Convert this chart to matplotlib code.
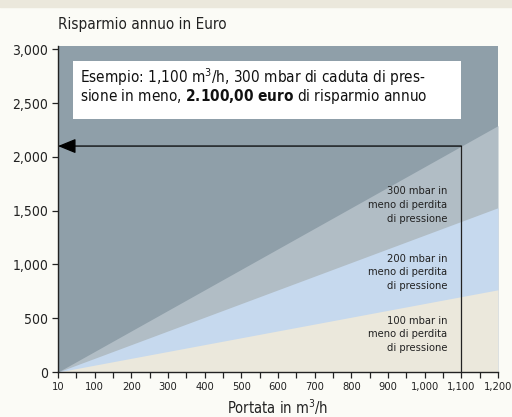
import matplotlib.pyplot as plt
from matplotlib.patches import Rectangle

plt.rcParams['font.family'] = ['DejaVu Sans']
plt.rcParams['font.stretch'] = 'condensed'
plt.rcParams['mathtext.fontset'] = 'custom'
plt.rcParams['mathtext.rm'] = 'DejaVu Sans:stretch=condensed'
plt.rcParams['mathtext.bf'] = 'DejaVu Sans:bold:stretch=condensed'

# flow positions (first tick is labelled "10" at the origin)
flow = [0, 1200]
save_300 = [0, 2290]
save_200 = [0, 1527]
save_100 = [0, 764]
xticks = list(range(0, 1300, 100))
xlabels = ['10', '100', '200', '300', '400', '500', '600', '700', '800',
           '900', '1,000', '1,100', '1,200']
yticks = [0, 500, 1000, 1500, 2000, 2500, 3000]
ylabels = ['0', '500', '1,000', '1,500', '2,000', '2,500', '3,000']
example_flow = 1100
example_save = 2100

bg = '#fbfbf6'
fig = plt.figure(figsize=(5.12, 4.17), dpi=100, facecolor=bg)
fig.patches.append(Rectangle((0, 1 - 7 / 417), 1, 7 / 417, transform=fig.transFigure,
                             color='#ebe8dc', zorder=0))
ax = fig.add_axes([58 / 512, 1 - 372 / 417, 440 / 512, 326 / 417])
ax.set_facecolor('#8f9fa9')
ax.set_xlim(0, 1200)
ax.set_ylim(0, 3030)

ax.fill_between(flow, 0, save_300, color='#b1bdc5', lw=0)
ax.fill_between(flow, 0, save_200, color='#c6d9ee', lw=0)
ax.fill_between(flow, 0, save_100, color='#ebe8dc', lw=0)

# example arrow
ax.plot([example_flow, example_flow], [0, example_save], color='#222222', lw=0.9)
ax.annotate('', xy=(0, example_save), xytext=(example_flow, example_save),
            arrowprops=dict(arrowstyle='-|>,head_length=1.1,head_width=0.45',
                            color='black', lw=0.9, shrinkA=0, shrinkB=0))

ax.add_patch(Rectangle((41, 2351), 1058, 539, facecolor='white', edgecolor='none'))
ax.text(60, 2745, 'Esempio: 1,100 m$^3$/h, 300 mbar di caduta di pres-',
        fontsize=11, va='center', ha='left', color='#111111')
ax.text(60, 2560, 'sione in meno, $\\bf{2.100{,}00\\ euro}$ di risparmio annuo',
        fontsize=11, va='center', ha='left', color='#111111')

lab_kw = dict(fontsize=8, ha='right', va='center', linespacing=1.45, color='#222222')
ax.text(1062, 1552, '300 mbar in\nmeno di perdita\ndi pressione', **lab_kw)
ax.text(1062, 925, '200 mbar in\nmeno di perdita\ndi pressione', **lab_kw)
ax.text(1062, 350, '100 mbar in\nmeno di perdita\ndi pressione', **lab_kw)

for s in ['top', 'right']:
    ax.spines[s].set_visible(False)
for s in ['left', 'bottom']:
    ax.spines[s].set_linewidth(1.0)
    ax.spines[s].set_color('#222222')

ax.set_xticks(xticks)
ax.set_xticklabels(xlabels)
ax.set_xticks(range(50, 1200, 100), minor=True)
ax.set_yticks(yticks)
ax.set_yticklabels(ylabels)
ax.tick_params(axis='both', which='both', length=4, width=0.9, color='#222222',
               labelcolor='#222222', pad=3)
ax.tick_params(axis='x', labelsize=8)
ax.tick_params(axis='y', labelsize=10)

fig.text(278 / 512, 1 - 407 / 417, 'Portata in m$^3$/h', fontsize=10.5,
         va='center', ha='center', color='#222222')
fig.text(58 / 512, 1 - 24 / 417, 'Risparmio annuo in Euro', fontsize=11,
         va='center', ha='left', color='#222222')

fig.savefig('out.png', dpi=100, facecolor=bg)
